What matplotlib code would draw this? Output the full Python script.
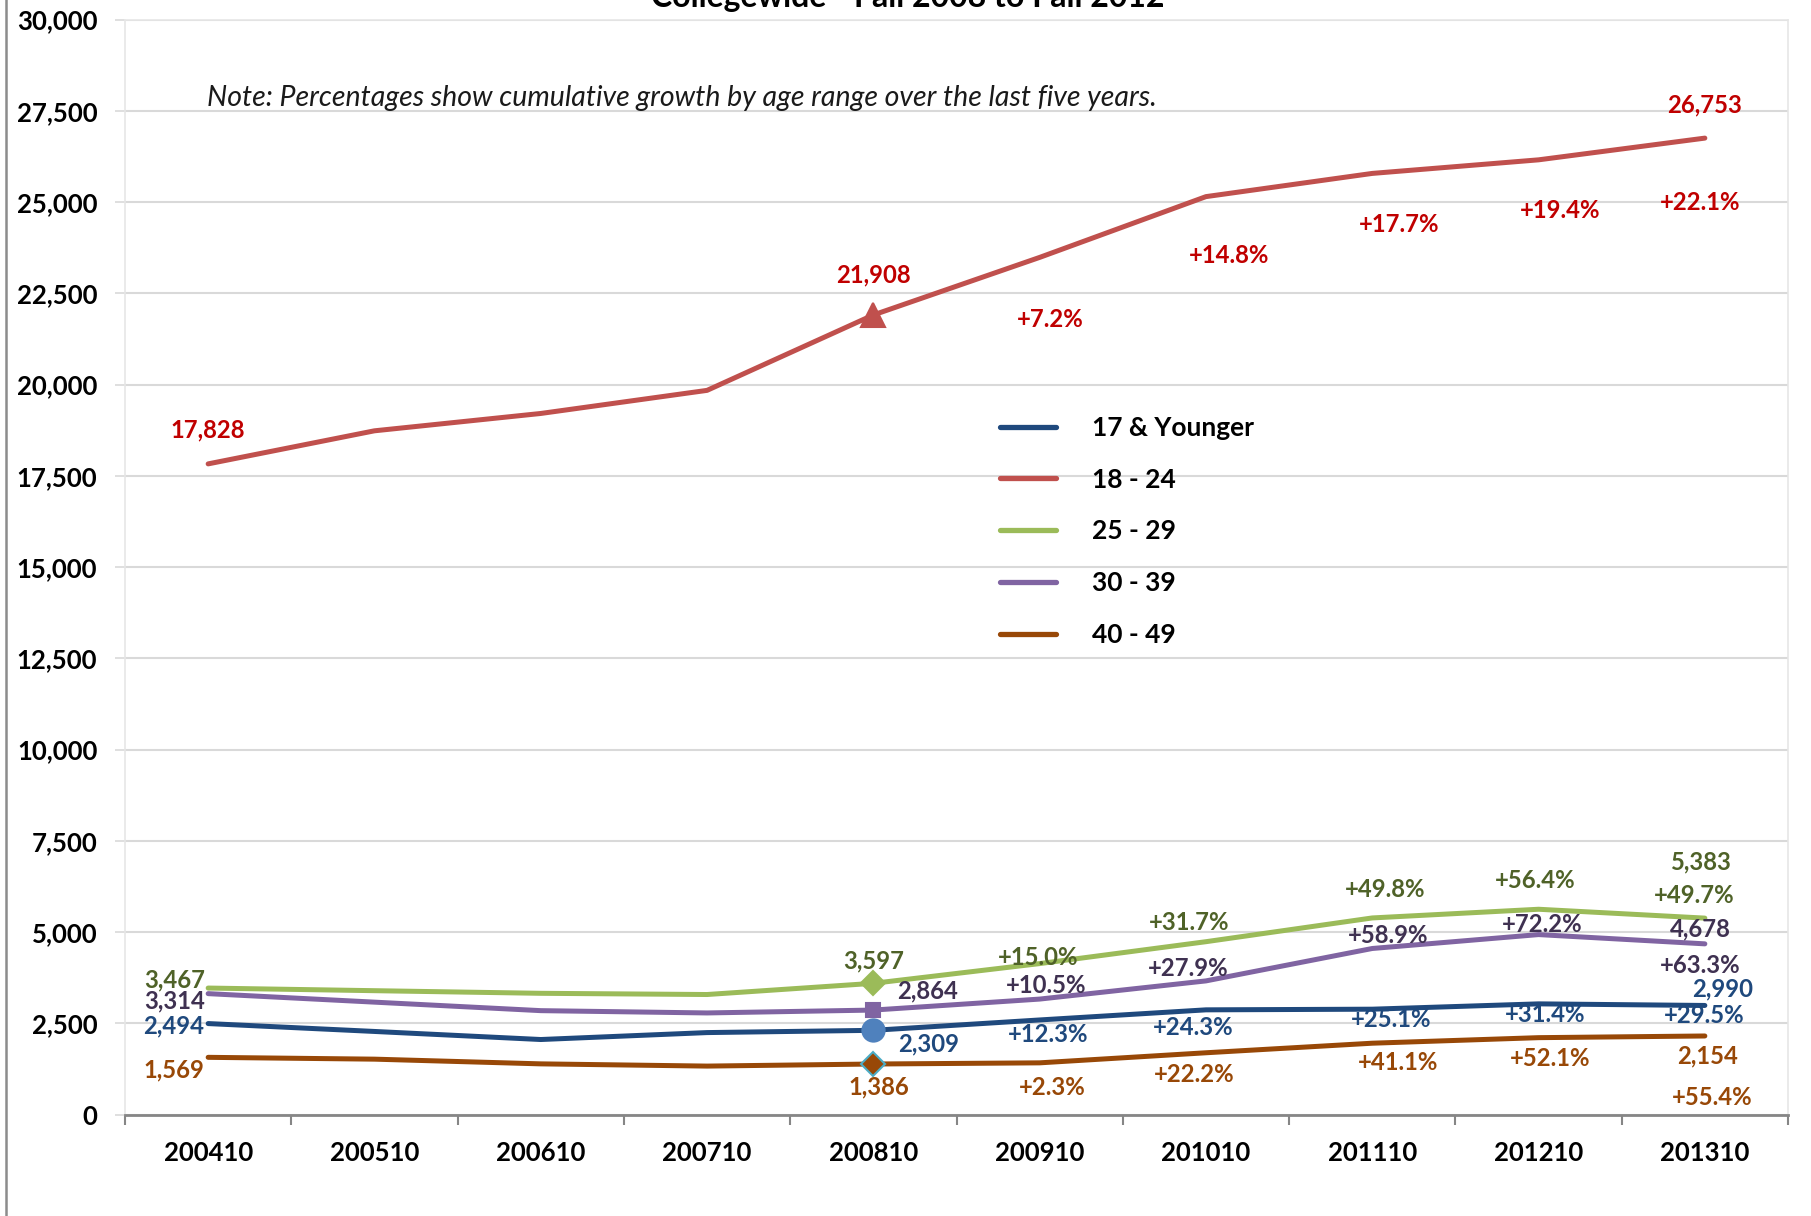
import matplotlib
matplotlib.use("Agg")
import matplotlib.pyplot as plt
from matplotlib.lines import Line2D

plt.rcParams['font.family'] = ['Lato', 'DejaVu Sans']

# ---- data ----
terms = ['200410', '200510', '200610', '200710', '200810',
         '200910', '201010', '201110', '201210', '201310']
series_names = ['17 & Younger', '18 - 24', '25 - 29', '30 - 39', '40 - 49']

age_17 = [2494, 2278, 2057, 2247, 2309, 2593, 2870, 2888, 3034, 2990]
age_18_24 = [17828, 18734, 19209, 19842, 21908, 23485, 25150, 25786, 26158, 26753]
age_25_29 = [3467, 3395, 3323, 3290, 3597, 4137, 4737, 5388, 5626, 5383]
age_30_39 = [3314, 3081, 2848, 2785, 2864, 3165, 3663, 4551, 4932, 4678]
age_40_49 = [1569, 1519, 1390, 1329, 1386, 1418, 1694, 1956, 2108, 2154]

# cumulative growth since 200810, shown for 200910..201310
pct_17 = ['+12.3%', '+24.3%', '+25.1%', '+31.4%', '+29.5%']
pct_18_24 = ['+7.2%', '+14.8%', '+17.7%', '+19.4%', '+22.1%']
pct_25_29 = ['+15.0%', '+31.7%', '+49.8%', '+56.4%', '+49.7%']
pct_30_39 = ['+10.5%', '+27.9%', '+58.9%', '+72.2%', '+63.3%']
pct_40_49 = ['+2.3%', '+22.2%', '+41.1%', '+52.1%', '+55.4%']

# ---- styling ----
line_colors = ['#1F497D', '#C0504D', '#9BBB59', '#8064A2', '#984807']
text_colors = ['#1F497D', '#C00000', '#4F6228', '#3F3151', '#984807']
markers = [('o', 16, '#4F81BD', '#4F81BD'),
           ('^', 17, '#C0504D', '#C0504D'),
           ('D', 12, '#9BBB59', '#9BBB59'),
           ('s', 10, '#8064A2', '#8064A2'),
           ('D', 12, '#984807', '#4BACC6')]

# label offsets in reference pixels (x right, y down)
value_idx = [0, 4, 9]
value_offsets = [
    [(-30, 2), (48, 12), (15, -14)],
    [(0, -29), (0, -35), (0, -29)],
    [(-29, -7), (0, -19), (-4, -49)],
    [(-29, 6), (47, -17), (-4, -13)],
    [(-30, 11), (5, 20), (2, 17)],
]
pct_offsets = [
    [(7, 13), (-11, 15), (16, 9), (6, 9), (-1, 9)],
    [(9, 54), (20, 51), (23, 44), (19, 44), (-4, 56)],
    [(-1, -5), (-15, -17), (11, -25), (-3, -25), (-9, -20)],
    [(6, -12), (-15, -11), (14, -11), (3, -9), (-4, 19)],
    [(11, 21), (-10, 19), (22, 17), (10, 18), (6, 53)],
]
PX = 1.155
LABEL_SIZE = 17.2
TICK_SIZE = 18.5

all_series = [age_17, age_18_24, age_25_29, age_30_39, age_40_49]
all_pct = [pct_17, pct_18_24, pct_25_29, pct_30_39, pct_40_49]

fig = plt.figure(figsize=(18.11, 12.16), dpi=100)
ax = fig.add_axes([125 / 1811, 1 - 1114.6 / 1216, 1663 / 1811, 1095 / 1216])

x = list(range(len(terms)))
for k, vals in enumerate(all_series):
    m, ms, mfc, mec = markers[k]
    ax.plot(x, vals, color=line_colors[k], linewidth=3.6, label=series_names[k],
            marker=m, markersize=ms, markerfacecolor=mfc, markeredgecolor=mec,
            markeredgewidth=1.5, markevery=[4], solid_capstyle='round', zorder=3)

    for j, i in enumerate(value_idx):
        dx, dy = value_offsets[k][j]
        ax.annotate(f"{vals[i]:,}", (i, vals[i]), xytext=(dx * PX, -dy * PX),
                    textcoords='offset pixels', ha='center', va='center',
                    fontsize=LABEL_SIZE, fontweight='bold', color=text_colors[k], zorder=4)
    for j, txt in enumerate(all_pct[k]):
        i = 5 + j
        dx, dy = pct_offsets[k][j]
        ax.annotate(txt, (i, vals[i]), xytext=(dx * PX, -dy * PX),
                    textcoords='offset pixels', ha='center', va='center',
                    fontsize=LABEL_SIZE, fontweight='bold', color=text_colors[k], zorder=4)

# axes
ax.set_xlim(-0.5, len(terms) - 0.5)
ax.set_ylim(0, 30000)
ax.set_yticks(range(0, 30001, 2500))
ax.set_yticklabels([f"{v:,}" for v in range(0, 30001, 2500)],
                   fontsize=TICK_SIZE, fontweight='bold')
ax.yaxis.grid(True, color='#D9D9D9', linewidth=1.5)
ax.set_axisbelow(True)
ax.tick_params(axis='y', length=7, width=1.2, color='#D9D9D9', pad=13)

ax.set_xticks([i - 0.5 for i in range(len(terms) + 1)])
ax.set_xticklabels([])
ax.set_xticks(x, minor=True)
ax.set_xticklabels(terms, minor=True, fontsize=TICK_SIZE, fontweight='bold')
ax.tick_params(axis='x', which='major', length=7, width=1.5, color='#868686')
ax.tick_params(axis='x', which='minor', length=0, pad=19)

for side in ['left', 'right', 'top']:
    ax.spines[side].set_color('#E6E6E6')
    ax.spines[side].set_linewidth(1.2)
ax.spines['bottom'].set_color('#868686')
ax.spines['bottom'].set_linewidth(2)

# note and legend
ax.text(0.0493, 0.928, 'Note: Percentages show cumulative growth by age range over the last five years.',
        transform=ax.transAxes, fontsize=20.5, fontstyle='italic', color='#1A1A1A',
        ha='left', va='center')

leg = ax.legend(loc='upper left', bbox_to_anchor=(0.526, 0.638), frameon=False,
                borderpad=0, borderaxespad=0, handlelength=2.15, handletextpad=1.36,
                labelspacing=1.05, prop={'size': 19, 'weight': 'bold'})
for h in leg.legend_handles:
    h.set_marker('')
    h.set_linewidth(3.8)

# title mostly cut off at top of the image, as in the original
fig.text(908 / 1811, 1 - 7.5 / 1216, 'Collegewide - Fall 2008 to Fall 2012',
         ha='center', va='baseline', fontsize=23, fontweight='bold')

# outer chart border on the left
fig.add_artist(Line2D([6 / 1811, 6 / 1811], [0, 1], transform=fig.transFigure,
                      color='#8C8C8C', linewidth=1.8))

fig.savefig('out.png', dpi=100)
